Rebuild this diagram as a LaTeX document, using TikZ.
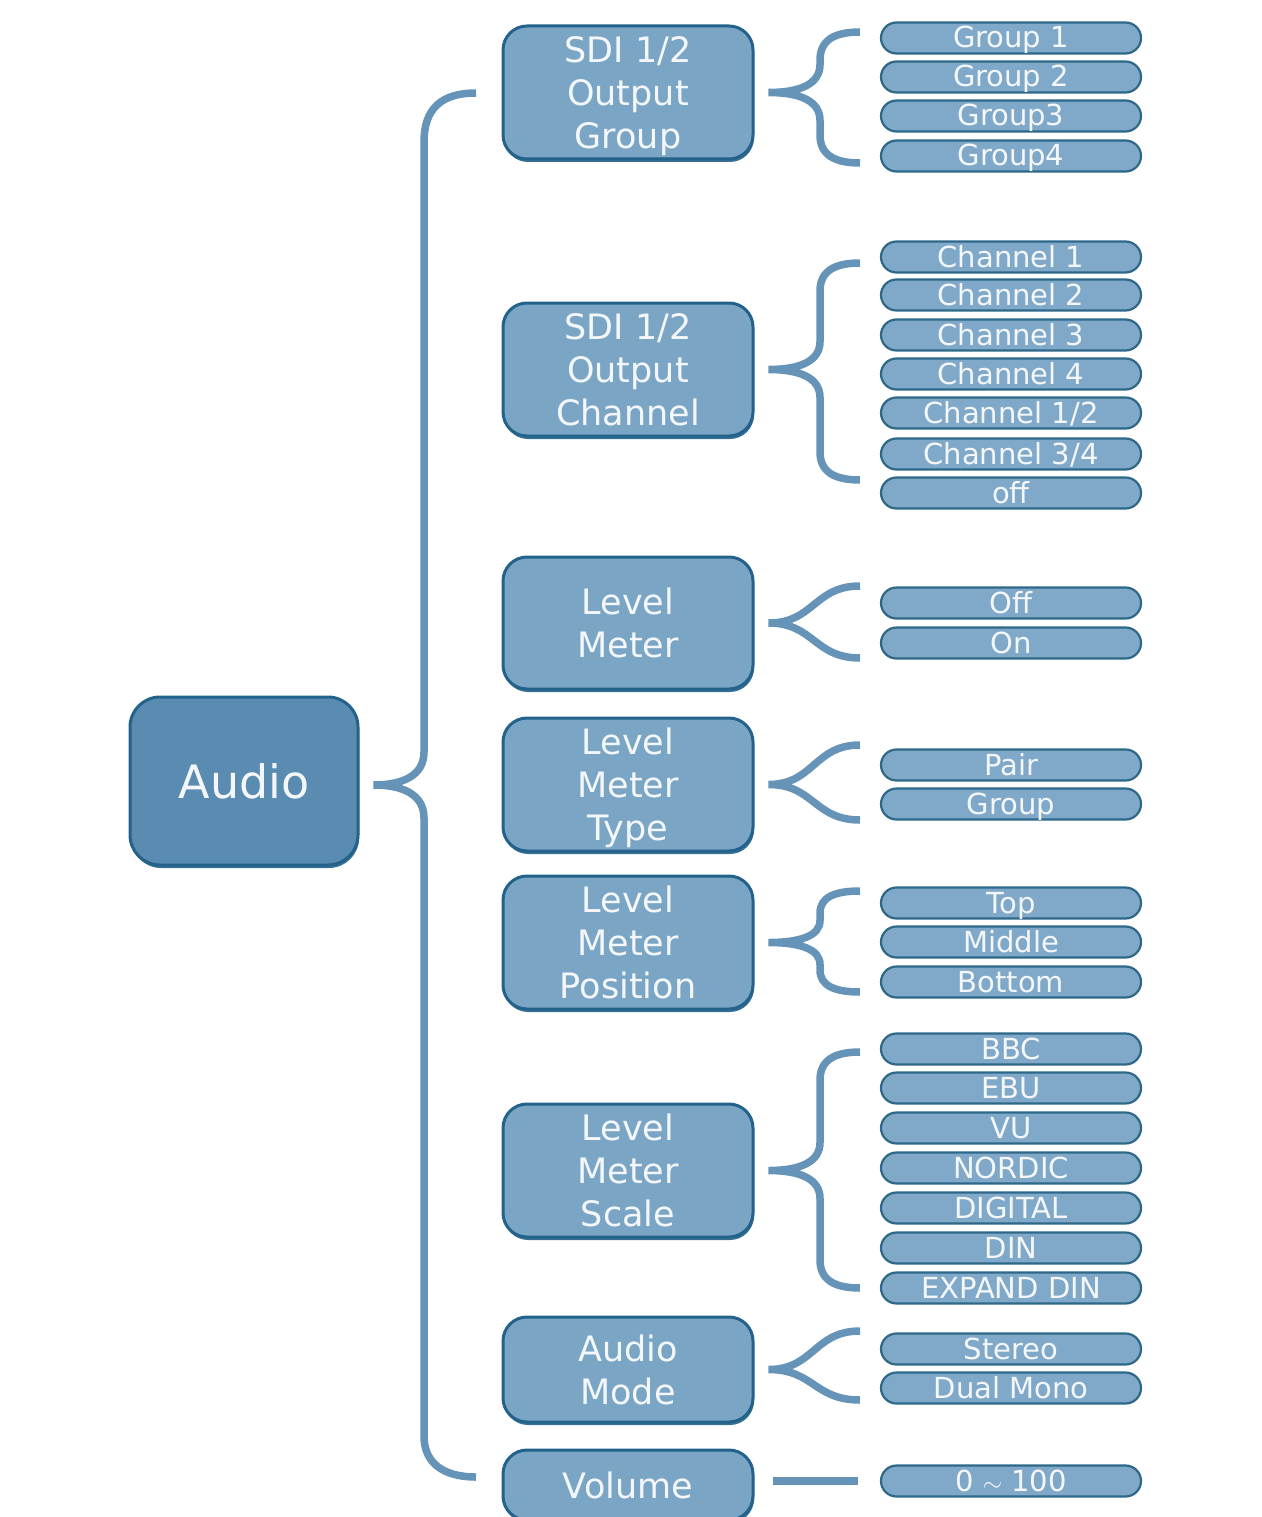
\documentclass[tikz,border=0pt]{standalone}
\usepackage{fontspec}
\setmainfont{DejaVu Sans}
\usetikzlibrary{calc,shapes.misc,shadows}
\definecolor{brc}{HTML}{6694B8}
\definecolor{boxfill}{HTML}{7BA5C5}
\definecolor{boxdraw}{HTML}{23628A}
\definecolor{rootfill}{HTML}{5A8BB0}
\definecolor{leaffill}{HTML}{80A8C8}
\definecolor{leafdraw}{HTML}{2E6888}
\definecolor{txt}{HTML}{F4F7FA}
\newcommand\curlybr[5]{% node, yt, yc, yb, r
 \draw[brace] (860,#2) .. controls (834,#2) and (820,#2+0.3*#5) .. (820,#2+#5) -- (820,#3-#5) .. controls (820,#3-0.3*#5) and (800,#3) .. ($(#1.east)+(14,0)$) .. controls (800,#3) and (820,#3+0.3*#5) .. (820,#3+#5) -- (820,#4-#5) .. controls (820,#4-0.3*#5) and (834,#4) .. (860,#4);}
\newcommand\forkbr[4]{% node, yt, yc, yb
 \draw[brace] (860,#2) .. controls (814,#2) and (814,#3) .. ($(#1.east)+(14,0)$) .. controls (814,#3) and (814,#4) .. (860,#4);}
\begin{document}
\begin{tikzpicture}[x=1pt,y=-1pt,
 brace/.style={draw=brc, line width=7.5pt},
 boxshadow/.style={drop shadow={shadow xshift=1pt, shadow yshift=-3pt, fill=boxdraw, opacity=0.9}},
 root/.style={draw=boxdraw, line width=3pt, fill=rootfill, rounded corners=30pt, minimum width=228pt, minimum height=168pt, text=txt, font=\fontsize{46}{50}\selectfont, inner sep=0pt, boxshadow},
 sub/.style={draw=boxdraw, line width=3pt, fill=boxfill, rounded corners=24pt, minimum width=250pt, text=txt, font=\fontsize{35}{43}\selectfont, align=center, inner sep=0pt, text depth=0pt, boxshadow},
 leaf/.style={rounded rectangle, draw=leafdraw, line width=2.2pt, fill=leaffill, minimum width=260pt, minimum height=31pt, text=txt, font=\fontsize{29}{30}\selectfont, inner sep=0pt, text height=21pt, text depth=1pt}]
\useasboundingbox (0,0) rectangle (1261,1517);
\clip (0,0) rectangle (1261,1517);
% root
\node[root] (audio) at (244,781) {Audio};
% sub boxes
\node[sub, minimum height=133pt] (b1) at (628,92.5) {SDI 1/2\\Output\\Group};
\node[sub, minimum height=133pt] (b2) at (628,369.5) {SDI 1/2\\Output\\Channel};
\node[sub, minimum height=132pt] (b3) at (628,623) {Level\\Meter};
\node[sub, minimum height=133pt] (b4) at (628,784.5) {Level\\Meter\\Type};
\node[sub, minimum height=133pt] (b5) at (628,942.5) {Level\\Meter\\Position};
\node[sub, minimum height=133pt] (b6) at (628,1170.5) {Level\\Meter\\Scale};
\node[sub, minimum height=105pt] (b7) at (628,1369.5) {Audio\\Mode};
\node[sub, minimum height=70pt] (b8) at (628,1485) {Volume};
% leaves
\foreach \n/\y/\t in {g1/38/{Group 1}, g2/77/{Group 2}, g3/116/{Group3}, g4/156/{Group4},
  c1/257/{Channel 1}, c2/295/{Channel 2}, c3/335/{Channel 3}, c4/374/{Channel 4}, c5/413/{Channel 1/2}, c6/454/{Channel 3/4}, c7/493/{off},
  m1/603/{Off}, m2/643/{On},
  t1/765/{Pair}, t2/804/{Group},
  p1/903/{Top}, p2/942/{Middle}, p3/982/{Bottom},
  s1/1049/{BBC}, s2/1088/{EBU}, s3/1128/{VU}, s4/1168/{NORDIC}, s5/1208/{DIGITAL}, s6/1248/{DIN}, s7/1288/{EXPAND DIN},
  a1/1349/{Stereo}, a2/1388/{Dual Mono},
  v1/1481/{0 $\sim$ 100}}
  \node[leaf] (\n) at (1011,\y) {\t};
% main brace
\draw[brace] (476,93) .. controls (442,93) and (424,108) .. (424,142) -- (424,752) .. controls (424,776) and (402,785) .. ($(audio.east)+(14,4)$) .. controls (402,785) and (424,794) .. (424,818) -- (424,1436) .. controls (424,1462) and (442,1477) .. (476,1477);
% sub braces
\curlybr{b1}{32}{92.5}{163}{28}
\curlybr{b2}{263}{369.5}{480}{28}
\forkbr{b3}{586}{623}{658}
\forkbr{b4}{745}{784.5}{820}
\curlybr{b5}{891}{942.5}{992}{22}
\curlybr{b6}{1052}{1170.5}{1288}{28}
\forkbr{b7}{1331}{1369.5}{1400}
\draw[brace] ($(v1.west -| b8.east)+(18,0)$) -- ($(v1.west)+(-22,0)$);
\end{tikzpicture}
\end{document}
